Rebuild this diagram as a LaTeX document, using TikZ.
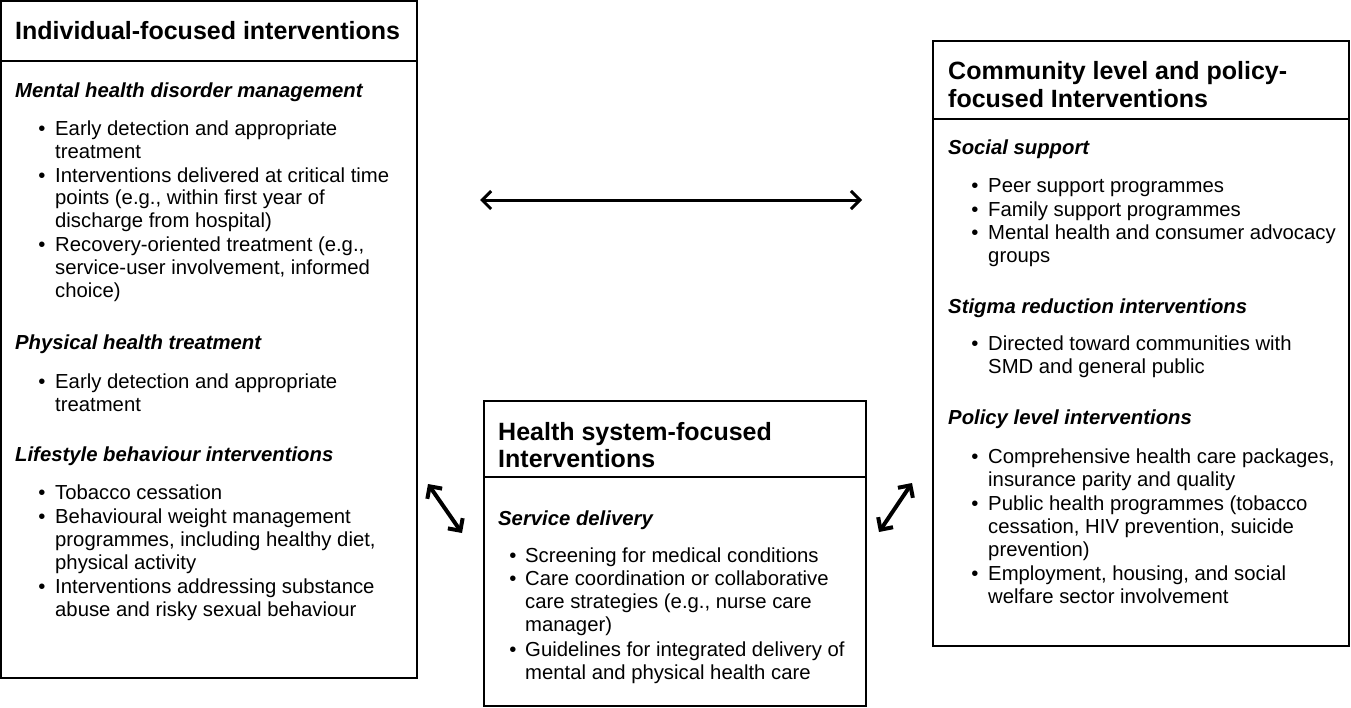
\documentclass[tikz,border=0pt]{standalone}
\usepackage{fontspec}
\setmainfont{Liberation Sans}
\usetikzlibrary{arrows.meta}
\newcommand\ttl{\fontsize{25}{28}\selectfont\bfseries}
\newcommand\bdy{\fontsize{20.3}{23}\selectfont}
\tikzset{
  box/.style={draw=black, line width=1.5pt, inner sep=0pt},
  sep/.style={draw=black, line width=1.5pt},
  txt/.style={anchor=mid west, inner sep=0pt, font=\bdy, yshift=-5pt},
  ttxt/.style={anchor=mid west, inner sep=0pt, font=\ttl, yshift=-6.5pt},
  htxt/.style={anchor=mid west, inner sep=0pt, font=\bdy\bfseries\itshape, yshift=-5pt},
  bul/.style={anchor=mid, inner sep=0pt, font=\bdy, yshift=-5pt},
  arr/.style={line width=3pt, {Straight Barb[length=9pt,width=18pt]}-{Straight Barb[length=9pt,width=18pt]}},
  darr/.style={line width=4pt, {Straight Barb[length=9pt,width=18pt]}-{Straight Barb[length=9pt,width=18pt]}}
}
% \tl{name}{x}{y}{text}
\newcommand\tl[4]{\node[txt] (#1) at (#2,#3) {#4};}
\newcommand\bu[4]{\node[bul] (#1b) at (#2,#3) {•};}
\begin{document}
\begin{tikzpicture}[x=1pt,y=-1pt]
\useasboundingbox (0,0) rectangle (1351,707);
% boxes
\node[box, minimum width=416pt, minimum height=677pt] (L) at (209,339.5) {};
\node[box, minimum width=382pt, minimum height=305pt] (M) at (675,553.5) {};
\node[box, minimum width=416pt, minimum height=605pt] (R) at (1141,343.5) {};
\draw[sep] (L.west |- 0,61) -- (L.east |- 0,61);
\draw[sep] (M.west |- 0,477) -- (M.east |- 0,477);
\draw[sep] (R.west |- 0,119) -- (R.east |- 0,119);
% ---------- left box
\node[ttxt] (Lt) at (15,30) {Individual-focused interventions};
\node[htxt] (Lh1) at (15,90) {Mental health disorder management};
\bu{La}{42}{128}{}\tl{La}{55}{128}{Early detection and appropriate}
\tl{La2}{55}{151}{treatment}
\bu{Lb}{42}{175}{}\tl{Lb}{55}{175}{Interventions delivered at critical time}
\tl{Lb2}{55}{197}{points (e.g., within first year of}
\tl{Lb3}{55}{220}{discharge from hospital)}
\bu{Lc}{42}{244}{}\tl{Lc}{55}{244}{Recovery-oriented treatment (e.g.,}
\tl{Lc2}{55}{267}{service-user involvement, informed}
\tl{Lc3}{55}{290}{choice)}
\node[htxt] (Lh2) at (15,342) {Physical health treatment};
\bu{Ld}{42}{381}{}\tl{Ld}{55}{381}{Early detection and appropriate}
\tl{Ld2}{55}{404}{treatment}
\node[htxt] (Lh3) at (15,454) {Lifestyle behaviour interventions};
\bu{Le}{42}{492}{}\tl{Le}{55}{492}{Tobacco cessation}
\bu{Lf}{42}{516}{}\tl{Lf}{55}{516}{Behavioural weight management}
\tl{Lf2}{55}{539}{programmes, including healthy diet,}
\tl{Lf3}{55}{562}{physical activity}
\bu{Lg}{42}{586}{}\tl{Lg}{55}{586}{Interventions addressing substance}
\tl{Lg2}{55}{609}{abuse and risky sexual behaviour}
% ---------- middle box
\node[ttxt] (Mt) at (498,431) {Health system-focused};
\node[ttxt] (Mt2) at (498,458) {Interventions};
\node[htxt] (Mh1) at (498,518) {Service delivery};
\bu{Ma}{513}{555}{}\tl{Ma}{525}{555}{Screening for medical conditions}
\bu{Mb}{513}{578}{}\tl{Mb}{525}{578}{Care coordination or collaborative}
\tl{Mb2}{525}{601}{care strategies (e.g., nurse care}
\tl{Mb3}{525}{624}{manager)}
\bu{Mc}{513}{649}{}\tl{Mc}{525}{649}{Guidelines for integrated delivery of}
\tl{Mc2}{525}{672}{mental and physical health care}
% ---------- right box
\node[ttxt] (Rt) at (948,70) {Community level and policy-};
\node[ttxt] (Rt2) at (948,98) {focused Interventions};
\node[htxt] (Rh1) at (948,147) {Social support};
\bu{Ra}{975}{185}{}\tl{Ra}{988}{185}{Peer support programmes}
\bu{Rb}{975}{209}{}\tl{Rb}{988}{209}{Family support programmes}
\bu{Rc}{975}{232}{}\tl{Rc}{988}{232}{Mental health and consumer advocacy}
\tl{Rc2}{988}{255}{groups}
\node[htxt] (Rh2) at (948,306) {Stigma reduction interventions};
\bu{Rd}{975}{343}{}\tl{Rd}{988}{343}{Directed toward communities with}
\tl{Rd2}{988}{366}{SMD and general public}
\node[htxt] (Rh3) at (948,417) {Policy level interventions};
\bu{Re}{975}{456}{}\tl{Re}{988}{456}{Comprehensive health care packages,}
\tl{Re2}{988}{479}{insurance parity and quality}
\bu{Rf}{975}{503}{}\tl{Rf}{988}{503}{Public health programmes (tobacco}
\tl{Rf2}{988}{526}{cessation, HIV prevention, suicide}
\tl{Rf3}{988}{549}{prevention)}
\bu{Rg}{975}{573}{}\tl{Rg}{988}{573}{Employment, housing, and social}
\tl{Rg2}{988}{596}{welfare sector involvement}
% ---------- arrows
\coordinate (h1) at (480,200);
\coordinate (h2) at (862,200);
\coordinate (d1) at (428,484);
\coordinate (d2) at (462,533);
\coordinate (e1) at (912,483);
\coordinate (e2) at (879,532);
\draw[arr] (h1) -- (h2);
\draw[darr] (d1) -- (d2);
\draw[darr] (e1) -- (e2);
\end{tikzpicture}
\end{document}
